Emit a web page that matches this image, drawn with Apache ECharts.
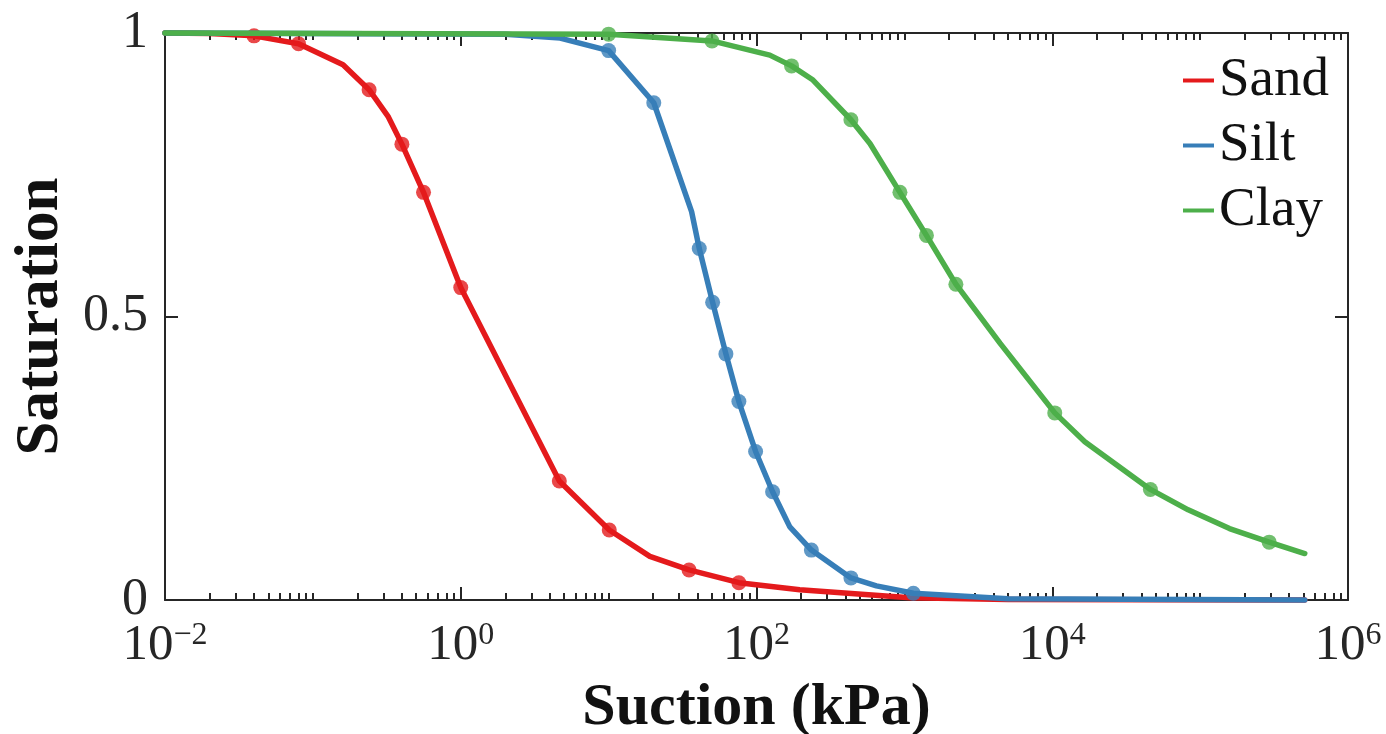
<!DOCTYPE html>
<html>
<head>
<meta charset="utf-8">
<script src="https://cdn.jsdelivr.net/npm/echarts@6/dist/echarts.min.js"></script>
<style>
  html, body { margin: 0; padding: 0; background: #ffffff; }
  #chart { width: 1386px; height: 734px; }
</style>
</head>
<body>
<div id="chart"></div>
<script>
// Soil-water retention curves: saturation vs. suction (kPa)
const seriesNames = ['Sand', 'Silt', 'Clay'];
const seriesColors = ['#E41A1C', '#377EB8', '#4DAF4A'];

// Sand: curve vertices and measured points
const sandCurveX = [0.01, 0.02, 0.04, 0.08, 0.16, 0.24, 0.324, 0.40, 0.56, 1.0, 4.64, 10.1, 19, 35, 76, 196, 1090, 5000, 510000];
const sandCurveY = [1.0, 0.999, 0.995, 0.981, 0.944, 0.90, 0.852, 0.804, 0.719, 0.551, 0.21, 0.1235, 0.077, 0.053, 0.0305, 0.018, 0.004, 0.001, 0];
const sandPointX = [0.04, 0.08, 0.24, 0.40, 0.56, 1.0, 4.64, 10.1, 35, 76];
const sandPointY = [0.995, 0.981, 0.90, 0.804, 0.719, 0.551, 0.21, 0.1235, 0.053, 0.0305];

// Silt
const siltCurveX = [0.01, 2.0, 4.7, 10, 20.2, 36.4, 41, 50.5, 62.1, 76, 98.6, 128.5, 168, 235, 435, 647, 1150, 5000, 510000];
const siltCurveY = [1.0, 0.998, 0.991, 0.969, 0.877, 0.685, 0.62, 0.525, 0.434, 0.35, 0.262, 0.191, 0.129, 0.088, 0.039, 0.025, 0.012, 0.002, 0];
const siltPointX = [10, 20.2, 41, 50.5, 62.1, 76, 98.6, 128.5, 235, 435, 1150];
const siltPointY = [0.969, 0.877, 0.62, 0.525, 0.434, 0.35, 0.262, 0.191, 0.088, 0.039, 0.012];

// Clay
const clayCurveX = [0.01, 10, 50, 123, 172.6, 241, 435, 585, 933, 1410, 2230, 4430, 10400, 16600, 46100, 83000, 158000, 293000, 510000];
const clayCurveY = [1.0, 0.998, 0.986, 0.961, 0.942, 0.917, 0.847, 0.805, 0.719, 0.643, 0.557, 0.453, 0.330, 0.279, 0.195, 0.159, 0.126, 0.102, 0.082];
const clayPointX = [10, 50, 172.6, 435, 933, 1410, 2230, 10400, 46100, 293000];
const clayPointY = [0.998, 0.986, 0.942, 0.847, 0.719, 0.643, 0.557, 0.330, 0.195, 0.102];

// Axis ticks
const xMajorTicks = [0.01, 1, 100, 10000, 1000000];
const yTicks = [0, 0.5, 1];
const xMinorTicks = [];
for (let k = -2; k <= 5; k++) {
  for (let m = 1; m <= 9; m++) {
    const v = m * Math.pow(10, k);
    if (m === 1 && k % 2 === 0) continue; // labelled decades carry the long tick
    xMinorTicks.push(+v.toPrecision(6));
  }
}

const FONT = 'Liberation Serif';
const INK = '#262626';

const zip = (xs, ys) => xs.map((x, i) => [x, ys[i]]);

const curves = [[sandCurveX, sandCurveY], [siltCurveX, siltCurveY], [clayCurveX, clayCurveY]];
const points = [[sandPointX, sandPointY], [siltPointX, siltPointY], [clayPointX, clayPointY]];

const series = [];
seriesNames.forEach((name, i) => {
  series.push({
    name: name,
    type: 'line',
    xAxisIndex: 0, yAxisIndex: 0,
    data: zip(curves[i][0], curves[i][1]),
    showSymbol: false,
    symbol: 'none',
    smooth: false,
    clip: false,
    color: seriesColors[i],
    itemStyle: { color: seriesColors[i] },
    lineStyle: { color: seriesColors[i], width: 5.5, cap: 'round', join: 'round' },
    z: 3 + i * 2
  });
  series.push({
    name: name,
    type: 'scatter',
    xAxisIndex: 0, yAxisIndex: 0,
    data: zip(points[i][0], points[i][1]),
    symbol: 'circle',
    symbolSize: 15,
    clip: false,
    itemStyle: { color: seriesColors[i] },
    z: 4 + i * 2
  });
});

const baseX = { type: 'log', logBase: 10, min: 0.01, max: 1000000, gridIndex: 0, splitLine: { show: false } };
const lineStyle = { color: INK, width: 2 };

const fmtExp = v => {
  const e = Math.round(Math.log10(v));
  const s = e < 0 ? '\u2212' + (-e) : String(e);
  return '{b|10}{s|' + s + '}';
};

const option = {
  backgroundColor: '#ffffff',
  animation: false,
  grid: { left: 165, right: 38, top: 33, bottom: 134, containLabel: false, outerBoundsMode: 'none' },
  legend: {
    data: seriesNames,
    orient: 'vertical',
    left: 1178,
    top: 43,
    itemGap: 0,
    itemWidth: 31,
    itemHeight: 4,
    icon: 'rect',
    align: 'left',
    selectedMode: false,
    textStyle: { fontFamily: FONT, fontSize: 55, color: '#111', lineHeight: 65 }
  },
  xAxis: [
    Object.assign({}, baseX, {
      position: 'bottom',
      axisLine: { show: true, lineStyle: lineStyle },
      axisTick: { show: true, inside: true, length: 13, lineStyle: { color: INK, width: 2 }, customValues: xMajorTicks },
      axisLabel: {
        show: true, margin: 20, customValues: xMajorTicks, formatter: fmtExp,
        rich: {
          b: { fontFamily: FONT, fontSize: 51, color: INK, lineHeight: 51 },
          s: { fontFamily: FONT, fontSize: 32, color: INK, lineHeight: 32, verticalAlign: 'top', padding: [0, 0, 6, 0] }
        }
      },
      name: 'Suction (kPa)',
      nameLocation: 'middle',
      nameGap: 78,
      nameTextStyle: { fontFamily: FONT, fontWeight: 'bold', fontSize: 60, color: '#111' }
    }),
    Object.assign({}, baseX, {
      position: 'bottom',
      axisLine: { show: false },
      axisTick: { show: true, inside: true, length: 7, lineStyle: { color: INK, width: 2 }, customValues: xMinorTicks },
      axisLabel: { show: false }
    }),
    Object.assign({}, baseX, {
      position: 'top',
      axisLine: { show: true, lineStyle: lineStyle },
      axisTick: { show: true, inside: true, length: 13, lineStyle: { color: INK, width: 2 }, customValues: xMajorTicks },
      axisLabel: { show: false }
    }),
    Object.assign({}, baseX, {
      position: 'top',
      axisLine: { show: false },
      axisTick: { show: true, inside: true, length: 7, lineStyle: { color: INK, width: 2 }, customValues: xMinorTicks },
      axisLabel: { show: false }
    })
  ],
  yAxis: [
    {
      type: 'value', min: 0, max: 1, interval: 0.5, position: 'left',
      splitLine: { show: false },
      axisLine: { show: true, lineStyle: lineStyle },
      axisTick: { show: true, inside: true, length: 13, lineStyle: { color: INK, width: 2 }, customValues: yTicks },
      axisLabel: {
        show: true, margin: 17, customValues: yTicks,
        fontFamily: FONT, fontSize: 52, color: INK,
        formatter: v => (Math.abs(v - 0.5) < 1e-9 ? '0.5' : String(Math.round(v)))
      },
      name: 'Saturation',
      nameLocation: 'middle',
      nameGap: 90,
      nameRotate: 90,
      nameTextStyle: { fontFamily: FONT, fontWeight: 'bold', fontSize: 61, color: '#111' }
    },
    {
      type: 'value', min: 0, max: 1, interval: 0.5, position: 'right',
      splitLine: { show: false },
      axisLine: { show: true, lineStyle: lineStyle },
      axisTick: { show: true, inside: true, length: 13, lineStyle: { color: INK, width: 2 }, customValues: yTicks },
      axisLabel: { show: false }
    }
  ],
  series: series
};

const chart = echarts.init(document.getElementById('chart'), null, { renderer: 'canvas' });
chart.setOption(option);
</script>
</body>
</html>
